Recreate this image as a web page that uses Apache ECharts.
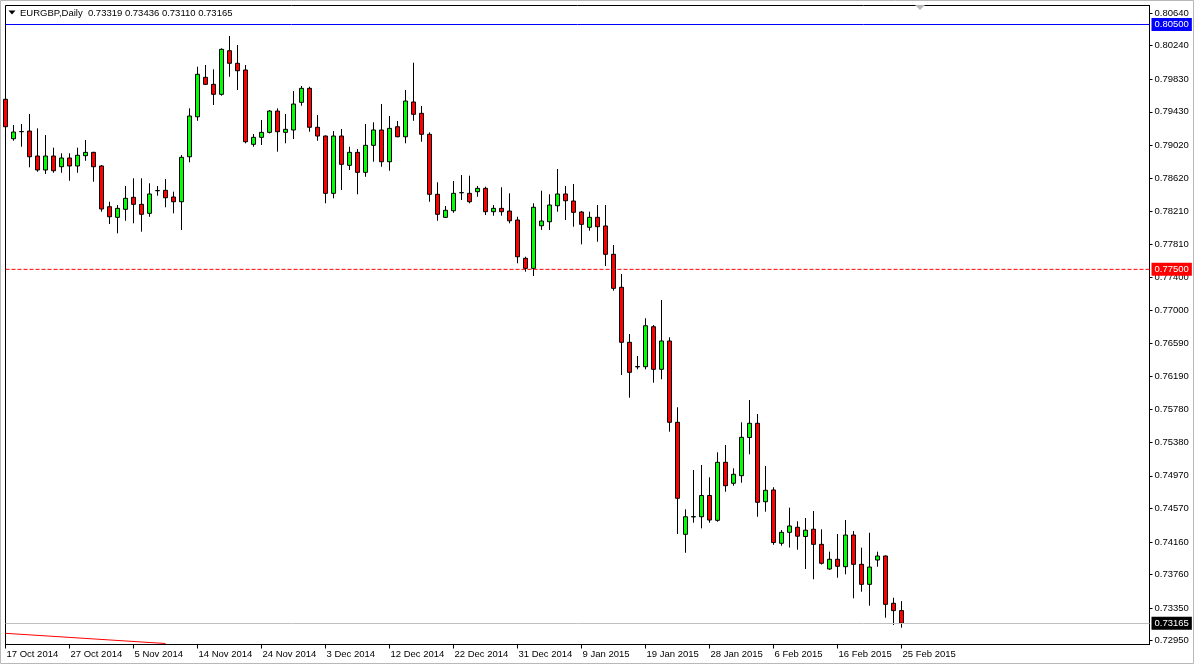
<!DOCTYPE html>
<html><head><meta charset="utf-8">
<script src="https://cdn.jsdelivr.net/npm/echarts@6/dist/echarts.min.js"></script>
<style>html,body{margin:0;padding:0;background:#fff}#c{width:1194px;height:664px}</style>
</head><body><div id="c"></div>
<script>
const symbol = 'EURGBP';
const timeframe = 'Daily';
const dateLabels = ['17 Oct 2014','27 Oct 2014','5 Nov 2014','14 Nov 2014','24 Nov 2014','3 Dec 2014','12 Dec 2014','22 Dec 2014','31 Dec 2014','9 Jan 2015','19 Jan 2015','28 Jan 2015','6 Feb 2015','16 Feb 2015','25 Feb 2015'];
const labelStep = 8;      // bars between date labels
const slotCount = 144;    // visible bar slots (incl. empty chart shift)
const opens = [0.79583,0.79100,0.79186,0.79194,0.78888,0.78717,0.78888,0.78757,0.78864,0.78766,0.78892,0.78933,0.78766,0.78267,0.78137,0.78235,0.78382,0.78296,0.78186,0.78463,0.78468,0.78386,0.78328,0.78879,0.79369,0.79852,0.79766,0.79644,0.80178,0.80024,0.79942,0.79031,0.79117,0.79178,0.79439,0.79178,0.79207,0.79546,0.79717,0.79240,0.79133,0.78431,0.79133,0.78774,0.78933,0.78688,0.79019,0.79207,0.78818,0.79247,0.79124,0.79550,0.79411,0.79154,0.78419,0.78137,0.78218,0.78438,0.78431,0.78451,0.78492,0.78206,0.78247,0.78214,0.78104,0.77635,0.77512,0.78034,0.78083,0.78279,0.78423,0.78337,0.78202,0.78015,0.78137,0.78031,0.77684,0.77280,0.76606,0.76305,0.76307,0.76797,0.76275,0.76622,0.75626,0.74254,0.74467,0.74469,0.74729,0.74425,0.75136,0.74879,0.74972,0.75440,0.75614,0.74653,0.74797,0.74144,0.74278,0.74340,0.74227,0.74316,0.74131,0.73829,0.73948,0.73857,0.74245,0.73886,0.73641,0.73939,0.73988,0.73409,0.73319];
const highs = [0.79798,0.79268,0.79280,0.79403,0.79227,0.79145,0.78990,0.78921,0.78921,0.78990,0.79084,0.78940,0.78778,0.78328,0.78288,0.78521,0.78615,0.78615,0.78554,0.78521,0.78606,0.78451,0.78900,0.79472,0.79982,0.80003,0.79950,0.80207,0.80358,0.80248,0.80003,0.79158,0.79329,0.79452,0.79472,0.79403,0.79684,0.79746,0.79737,0.79390,0.79140,0.79194,0.79219,0.79002,0.78974,0.79280,0.79301,0.79525,0.79378,0.79317,0.79697,0.80031,0.79501,0.79178,0.78566,0.78276,0.78582,0.78655,0.78647,0.78521,0.78512,0.78288,0.78505,0.78431,0.78144,0.77654,0.78309,0.78463,0.78419,0.78729,0.78521,0.78545,0.78214,0.78206,0.78288,0.78288,0.77798,0.77443,0.76708,0.76438,0.76900,0.76818,0.77124,0.76667,0.75810,0.74560,0.75042,0.75103,0.74952,0.75258,0.75348,0.75062,0.75626,0.75899,0.75728,0.75091,0.74830,0.74307,0.74580,0.74413,0.74454,0.74539,0.74315,0.74041,0.74258,0.74429,0.74294,0.74090,0.74273,0.74041,0.73995,0.73477,0.73436];
const lows = [0.79227,0.79075,0.79002,0.78750,0.78696,0.78668,0.78683,0.78683,0.78585,0.78683,0.78830,0.78573,0.78206,0.78055,0.77941,0.78095,0.78064,0.77961,0.78144,0.78402,0.78260,0.78186,0.77982,0.78811,0.79320,0.79758,0.79513,0.79627,0.79859,0.79697,0.79044,0.79002,0.79023,0.79166,0.78941,0.79044,0.79096,0.79504,0.79186,0.79075,0.78309,0.78370,0.78472,0.78717,0.78419,0.78634,0.78818,0.78757,0.78708,0.79118,0.79044,0.79320,0.79063,0.78328,0.78095,0.78130,0.78193,0.78349,0.78309,0.78389,0.78165,0.78157,0.78157,0.78064,0.77574,0.77471,0.77418,0.77982,0.77982,0.78206,0.78104,0.78022,0.77806,0.77973,0.77838,0.77541,0.77238,0.76205,0.75927,0.76275,0.76275,0.76111,0.76153,0.75511,0.74258,0.74028,0.74396,0.74327,0.74396,0.74408,0.74776,0.74849,0.74886,0.75234,0.74469,0.74531,0.74125,0.74114,0.74092,0.74065,0.73829,0.73703,0.73884,0.73820,0.73722,0.73764,0.73470,0.73551,0.73379,0.73857,0.73232,0.73143,0.73110];
const closes = [0.79247,0.79182,0.79188,0.78879,0.78717,0.78888,0.78708,0.78864,0.78766,0.78897,0.78933,0.78757,0.78239,0.78144,0.78247,0.78370,0.78296,0.78174,0.78423,0.78465,0.78377,0.78328,0.78872,0.79378,0.79889,0.79766,0.79644,0.80195,0.80024,0.79933,0.79063,0.79117,0.79178,0.79439,0.79186,0.79215,0.79525,0.79717,0.79240,0.79133,0.78431,0.79133,0.78786,0.78933,0.78688,0.79019,0.79207,0.78818,0.79227,0.79124,0.79562,0.79399,0.79154,0.78419,0.78174,0.78223,0.78431,0.78440,0.78328,0.78492,0.78206,0.78247,0.78206,0.78095,0.77654,0.77512,0.78260,0.78092,0.78288,0.78423,0.78340,0.78198,0.78051,0.78137,0.78022,0.77684,0.77267,0.76606,0.76238,0.76309,0.76809,0.76275,0.76622,0.75626,0.74695,0.74469,0.74471,0.74729,0.74429,0.75136,0.74849,0.74989,0.75442,0.75614,0.74646,0.74793,0.74153,0.74278,0.74356,0.74231,0.74304,0.74131,0.73899,0.73948,0.73862,0.74245,0.73886,0.73641,0.73853,0.73988,0.73396,0.73319,0.73165];
const priceTicks = [0.80640,0.80240,0.79830,0.79430,0.79020,0.78620,0.78210,0.77810,0.77400,0.77000,0.76590,0.76190,0.75780,0.75380,0.74970,0.74570,0.74160,0.73760,0.73350,0.72950];
const yMin = 0.72904, yMax = 0.80732;
const levelBlue = 0.80500;
const levelRed = 0.77500;
const bidPrice = 0.73165;
const trendline = [[0, 0.73041], [20, 0.72916]];

const FONT = '"Liberation Sans", Arial, sans-serif';
const FS = 9.5;
const last = opens.length - 1;
const header = symbol + ',' + timeframe + '  ' + [opens[last], highs[last], lows[last], closes[last]].map(v => v.toFixed(5)).join(' ');
const cats = Array.from({length: slotCount}, (_, i) => String(i));
const ohlc = opens.map((o, i) => [o, closes[i], lows[i], highs[i]]);
const showIdx = (i) => i % labelStep === 0 && i / labelStep < dateLabels.length;
const levelLabel = (bg) => ({show: true, position: 'end', distance: 2, formatter: p => Number(p.value).toFixed(5), color: '#fff',
  fontSize: FS, fontFamily: FONT, padding: [2, 3, 1, 3], backgroundColor: bg});
const redLevelLine = [[0, levelRed], [slotCount - 1, levelRed]];

const chart = echarts.init(document.getElementById('c'), null, {renderer: 'canvas'});
chart.setOption({
  animation: false,
  backgroundColor: '#fff',
  textStyle: {fontFamily: FONT},
  title: {text: header, left: 20, top: 8, padding: 0,
    textStyle: {fontSize: FS, fontWeight: 'normal', color: '#000', fontFamily: FONT}},
  grid: {left: 5.5, right: 44.5, top: 5.5, bottom: 19.5, show: true, borderColor: '#000', borderWidth: 1,
    backgroundColor: '#fff', outerBoundsMode: 'none', containLabel: false},
  xAxis: {type: 'category', data: cats, boundaryGap: false,
    axisLine: {show: true, lineStyle: {color: '#000', width: 1}},
    axisTick: {show: true, length: 4, interval: showIdx, lineStyle: {color: '#000'}},
    axisLabel: {interval: showIdx, formatter: (v, i) => dateLabels[Math.round(Number(v) / labelStep)], align: 'left',
      margin: 5, fontSize: FS, color: '#000', fontFamily: FONT, hideOverlap: false, padding: [0, 0, 0, 1]},
    splitLine: {show: false}},
  yAxis: {type: 'value', position: 'right', min: yMin, max: yMax,
    axisLine: {show: true, lineStyle: {color: '#000', width: 1}},
    axisTick: {show: true, customValues: priceTicks, length: 3, lineStyle: {color: '#000'}},
    axisLabel: {customValues: priceTicks, formatter: v => v.toFixed(5), margin: 5, fontSize: FS, color: '#000', fontFamily: FONT},
    splitLine: {show: false}},
  graphic: [
    {type: 'rect', shape: {x: 0.5, y: 0.5, width: 1193, height: 663}, style: {fill: 'none', stroke: '#b8b8b8', lineWidth: 1}, z: 100, silent: true},
    {type: 'polygon', shape: {points: [[8.5, 10.5], [15.5, 10.5], [12, 14.5]]}, style: {fill: '#000'}, z: 100, silent: true},
    {type: 'polygon', shape: {points: [[915, 5], [925, 5], [920, 10]]}, style: {fill: '#b8b8b8'}, z: 100, silent: true}
  ],
  series: [
    {type: 'line', data: trendline, symbol: 'none', silent: true, clip: true, z: 1, color: '#ff0000',
      lineStyle: {color: '#ff0000', width: 1}},
    {type: 'line', data: redLevelLine, symbol: 'none', silent: true, clip: false, z: 3, color: '#ff0000',
      lineStyle: {color: '#ff0000', width: 1, type: 'dashed', dashOffset: 0},
      endLabel: {show: true, distance: 2, formatter: () => levelRed.toFixed(5), color: '#fff', fontSize: FS, fontFamily: FONT,
        padding: [2, 3, 1, 3], backgroundColor: '#ff0000'}},
    {type: 'candlestick', data: ohlc, barWidth: 4, z: 2,
      itemStyle: {color: '#00ff00', color0: '#ff0000', borderColor: '#000', borderColor0: '#000', borderColorDoji: '#000', borderWidth: 1},
      markLine: {symbol: ['none', 'none'], silent: true, animation: false, precision: 5,
        label: levelLabel('#000'),
        data: [
          {yAxis: levelBlue, lineStyle: {color: '#0000ff', type: 'solid', width: 1}, label: {backgroundColor: '#0000ff'}},
          {yAxis: bidPrice, lineStyle: {color: '#c0c0c0', type: 'solid', width: 1}, label: {backgroundColor: '#000'}}
        ]}}
  ]
});
</script>
</body></html>
